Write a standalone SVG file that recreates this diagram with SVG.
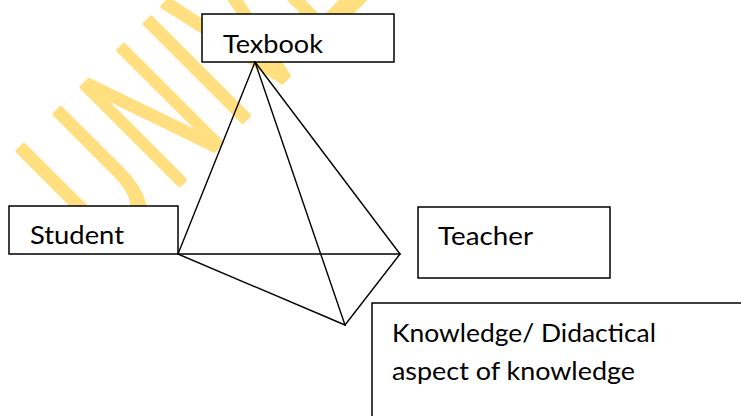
<svg xmlns="http://www.w3.org/2000/svg" width="741" height="416" viewBox="0 0 741 416">
  <style>
    .box { fill: #ffffff; stroke: #000000; stroke-width: 1.5; }
    .lbl { font-family: Lato, "Open Sans", "Liberation Sans", sans-serif; font-size: 25px; fill: #000000; }
    .link { stroke: #000000; stroke-width: 1.4; fill: none; stroke-linecap: round; }
    .wm { font-family: "Liberation Sans", Arial, sans-serif; font-size: 200px; fill: #ffdf80; stroke: #ffdf80; stroke-width: 5; stroke-linejoin: round; text-anchor: middle; }
  </style>

  <!-- diagonal watermark lettering behind the diagram -->
  <g id="watermark" transform="translate(83,83) rotate(-45)">
    <text class="wm" transform="translate(-64,140) scale(0.55,1)">U</text>
    <text class="wm" transform="translate(26,140) scale(0.55,1)">N</text>
    <text class="wm" transform="translate(90,140) scale(0.55,1)">I</text>
    <text class="wm" transform="translate(146,140) scale(0.55,1)">V</text>
    <text class="wm" transform="translate(232,140) scale(0.55,1)">E</text>
  </g>

  <g id="node-textbook">
    <rect class="box" x="202" y="14" width="192" height="48"/>
    <text class="lbl" x="223" y="53" textLength="100" lengthAdjust="spacingAndGlyphs">Texbook</text>
  </g>

  <g id="node-student">
    <rect class="box" x="9" y="206" width="169" height="48"/>
    <text class="lbl" x="30" y="244" textLength="94" lengthAdjust="spacingAndGlyphs">Student</text>
  </g>

  <g id="node-teacher">
    <rect class="box" x="418" y="207" width="192" height="71"/>
    <text class="lbl" x="438" y="245" textLength="95" lengthAdjust="spacingAndGlyphs">Teacher</text>
  </g>

  <g id="node-knowledge">
    <rect class="box" x="372" y="303" width="420" height="150"/>
    <text class="lbl" x="392" y="342" textLength="264" lengthAdjust="spacingAndGlyphs">Knowledge/ Didactical</text>
    <text class="lbl" x="392" y="380" textLength="243" lengthAdjust="spacingAndGlyphs">aspect of knowledge</text>
  </g>

  <!-- tetrahedron edges joining the four corners -->
  <g id="connectors">
    <line class="link" x1="255" y1="62" x2="178" y2="254"/>
    <line class="link" x1="255" y1="62" x2="400" y2="254"/>
    <line class="link" x1="255" y1="62" x2="345" y2="325"/>
    <line class="link" x1="178" y1="254" x2="400" y2="254"/>
    <line class="link" x1="178" y1="254" x2="345" y2="325"/>
    <line class="link" x1="400" y1="254" x2="345" y2="325"/>
  </g>
</svg>
